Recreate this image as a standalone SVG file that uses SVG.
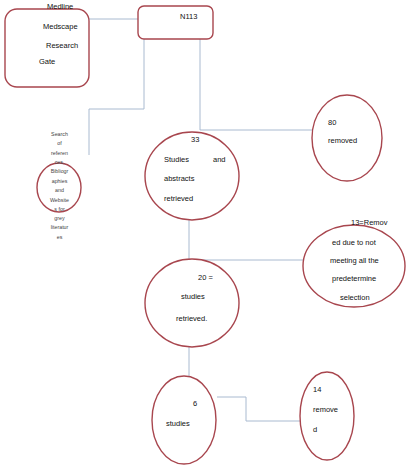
<svg xmlns="http://www.w3.org/2000/svg" width="418" height="469" viewBox="0 0 418 469">
<style>
.n{fill:#fff;stroke:#a8464e;stroke-width:1.4}
.c{fill:none;stroke:#a9bad0;stroke-width:1}
text{font-family:"Liberation Sans",Arial,sans-serif;font-size:7.5px;fill:#111}
.s{font-size:5.3px;fill:#444;text-anchor:middle}
</style>
<rect width="418" height="469" fill="#fff"/>
<g id="connectors">
<path class="c" d="M89 19H138"/>
<path class="c" d="M144 39V109H89V155"/>
<path class="c" d="M200 33V130H312"/>
<path class="c" d="M189 219V260H303"/>
<path class="c" d="M189 347V377"/>
<path class="c" d="M217 397H246V421H300"/>
</g>
<g id="sources">
<rect class="n" x="5" y="9" width="84" height="78" rx="12"/>
<text x="47" y="9">Medline</text>
<text x="43" y="29">Medscape</text>
<text x="46" y="48">Research</text>
<text x="39" y="64">Gate</text>
</g>
<g id="n113">
<rect class="n" x="138" y="6" width="75" height="33" rx="6"/>
<text x="180" y="19">N113</text>
</g>
<g id="search">
<ellipse class="n" cx="59" cy="187.5" rx="22" ry="24.5"/>
<text class="s" x="59.5" y="136">Search</text>
<text class="s" x="59.5" y="145">of</text>
<text class="s" x="59.5" y="155">referen</text>
<text class="s" x="59.5" y="164">ces,</text>
<text class="s" x="59.5" y="173">Bibliogr</text>
<text class="s" x="59.5" y="183">aphies</text>
<text class="s" x="59.5" y="192">and</text>
<text class="s" x="59.5" y="202">Website</text>
<text class="s" x="59.5" y="211">s for</text>
<text class="s" x="59.5" y="220">grey</text>
<text class="s" x="59.5" y="229">literatur</text>
<text class="s" x="59.5" y="239">es</text>
</g>
<g id="n33">
<ellipse class="n" cx="192" cy="176" rx="47" ry="44"/>
<text x="191" y="142">33</text>
<text x="164" y="162">Studies</text>
<text x="213" y="162">and</text>
<text x="164" y="181">abstracts</text>
<text x="164" y="201">retrieved</text>
</g>
<g id="n80">
<ellipse class="n" cx="347" cy="138" rx="35" ry="43"/>
<text x="328" y="125">80</text>
<text x="328" y="143">removed</text>
</g>
<g id="n20">
<ellipse class="n" cx="192" cy="303" rx="47" ry="44"/>
<text x="198" y="280">20 =</text>
<text x="181" y="299">studies</text>
<text x="176" y="321">retrieved.</text>
</g>
<g id="n13">
<ellipse class="n" cx="354" cy="266" rx="51" ry="41"/>
<text x="351" y="225">13=Remov</text>
<text x="332" y="245">ed due to not</text>
<text x="330" y="263">meeting all the</text>
<text x="332" y="281">predetermine</text>
<text x="340" y="300">selection</text>
</g>
<g id="n6">
<ellipse class="n" cx="184" cy="420" rx="32" ry="44"/>
<text x="193" y="406">6</text>
<text x="166" y="426">studies</text>
</g>
<g id="n14">
<ellipse class="n" cx="327" cy="416" rx="27" ry="44"/>
<text x="313" y="392">14</text>
<text x="313" y="412">remove</text>
<text x="313" y="432">d</text>
</g>
</svg>
